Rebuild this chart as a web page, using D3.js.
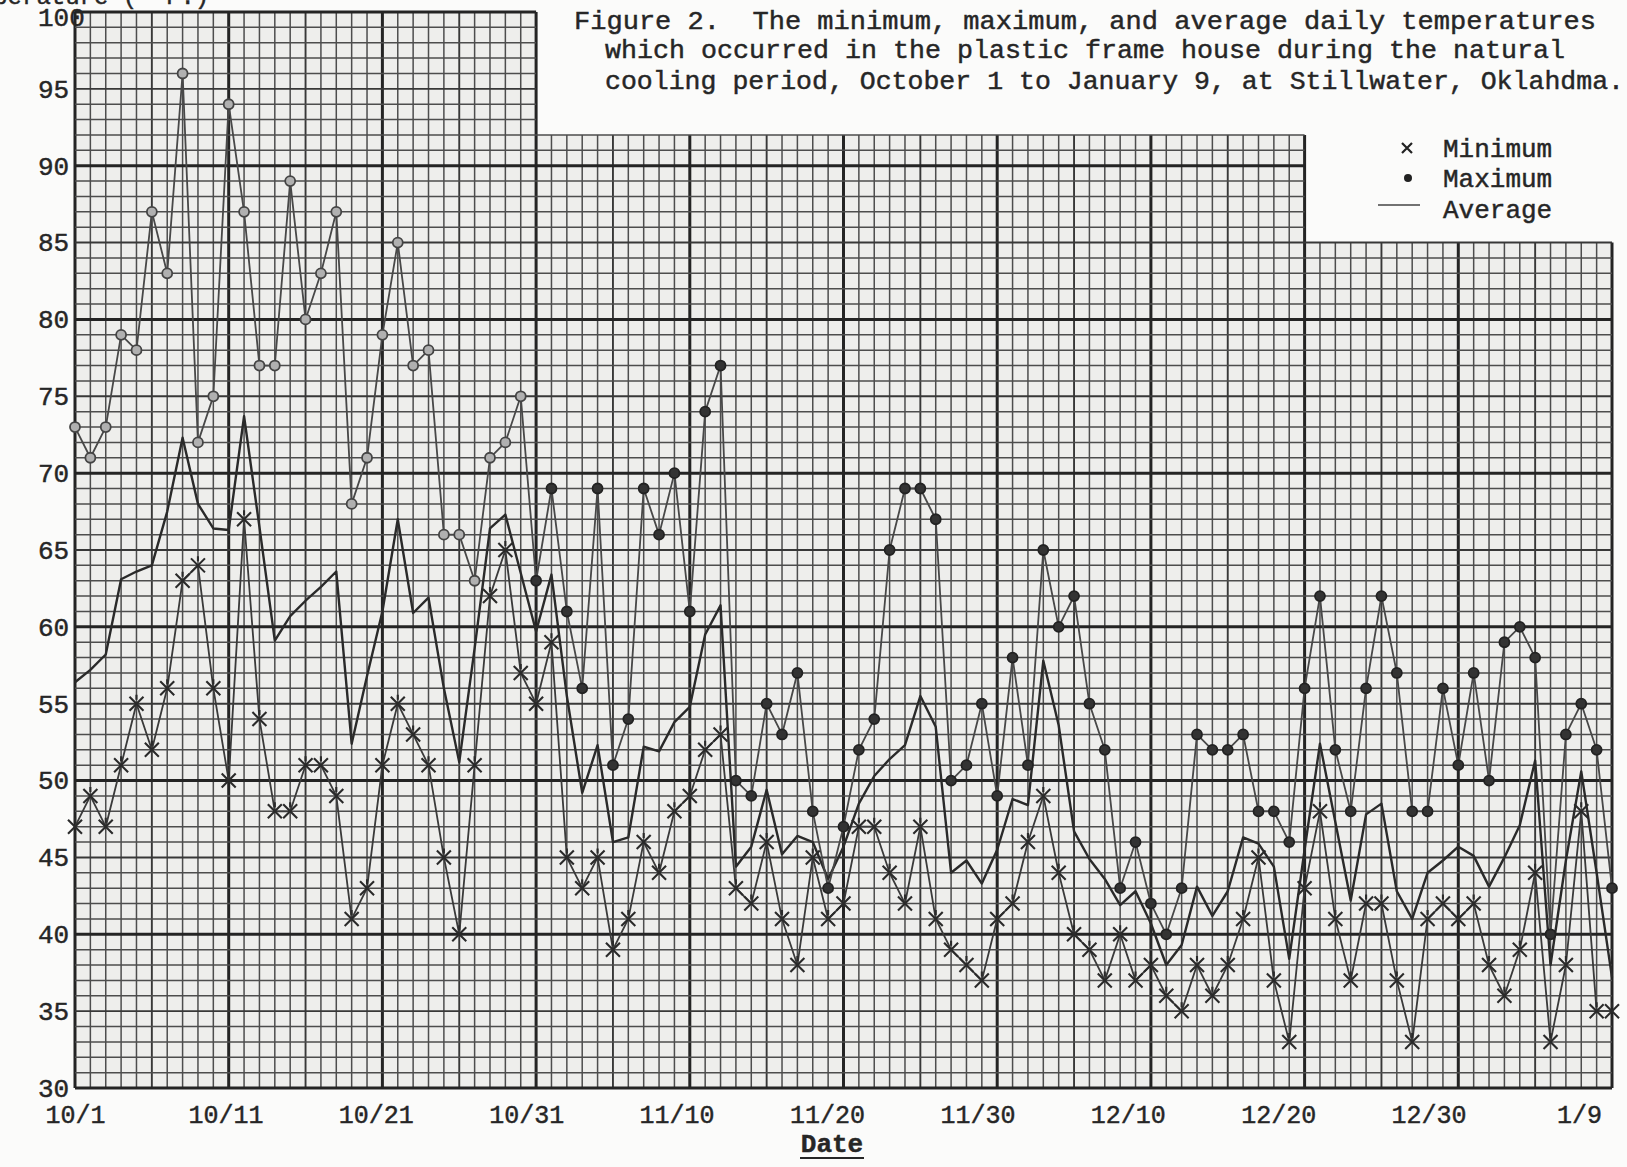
<!DOCTYPE html>
<html><head><meta charset="utf-8">
<script src="https://cdn.jsdelivr.net/npm/d3@7"></script>
<style>
html,body{margin:0;padding:0;background:#fbfbfa;}
svg{display:block;}
text{font-family:"Liberation Mono","DejaVu Sans Mono",monospace;fill:#262626;stroke:#262626;stroke-width:0.45px;}
</style></head><body>
<svg id="chart" width="1627" height="1167"></svg>
<script>
// ---- data (day index 0 = Oct 1, 100 = Jan 9) ----
const maxTemps = [73,71,73,79,78,87,83,96,72,75, 94,87,77,77,89,80,83,87,68,71,
  79,85,77,78,66,66,63,71,72,75, 63,69,61,56,69,51,54,69,66,70,
  61,74,77,50,49,55,53,57,48,43, 47,52,54,65,69,69,67,50,51,55,
  49,58,51,65,60,62,55,52,43,46, 42,40,43,53,52,52,53,48,48,46,
  56,62,52,48,56,62,57,48,48,56, 51,57,50,59,60,58,40,53,55,52, 43];
const minTemps = [47,49,47,51,55,52,56,63,64,56, 50,67,54,48,48,51,51,49,41,43,
  51,55,53,51,45,40,51,62,65,57, 55,59,45,43,45,39,41,46,44,48,
  49,52,53,43,42,46,41,38,45,41, 42,47,47,44,42,47,41,39,38,37,
  41,42,46,49,44,40,39,37,40,37, 38,36,35,38,36,38,41,45,37,33,
  43,48,41,37,42,42,37,33,41,42, 41,42,38,36,39,44,33,38,48,35, 35];
const avgTemps = [56.4,57.2,58.2,63.1,63.6,64.0,67.5,72.3,68.0,66.4,
  66.3,73.7,66.5,59.1,60.7,61.7,62.6,63.6,52.4,56.8,
  61.0,67.0,60.9,61.9,56.0,51.2,58.6,66.4,67.3,63.5,
  59.7,63.4,55.5,49.2,52.3,46.0,46.3,52.2,51.9,53.8,
  54.8,59.5,61.4,44.4,45.7,49.4,45.2,46.4,46.0,43.6,
  45.7,48.5,50.3,51.4,52.3,55.5,53.5,44.0,44.8,43.3,
  45.5,48.8,48.4,57.8,53.6,46.7,44.9,43.6,41.9,42.8,
  40.7,38.0,39.3,43.1,41.2,42.8,46.3,45.9,44.4,38.4,
  45.5,52.4,47.3,42.2,47.8,48.5,42.8,41.0,44.0,44.8,
  45.7,45.1,43.1,45.0,47.1,51.3,38.0,44.8,50.6,44.0, 37.2];
const xTickDays = [0,10,20,30,40,50,60,70,80,90,100];
const xTickLabels = ["10/1","10/11","10/21","10/31","11/10","11/20","11/30","12/10","12/20","12/30","1/9"];
const yTickValues = [30,35,40,45,50,55,60,65,70,75,80,85,90,95,100];
const titleLines = ["Figure 2.  The minimum, maximum, and average daily temperatures",
  "which occurred in the plastic frame house during the natural",
  "cooling period, October 1 to January 9, at Stillwater, Oklahdma."];
const legendLabels = ["Minimum","Maximum","Average"];
const yTitle = "Temperature (\u00B0 F.)";
const xTitle = "Date";

// ---- scales ----
const svg = d3.select("#chart");
const x = d3.scaleLinear().domain([0,100]).range([75,1612]);
const y = d3.scaleLinear().domain([30,100]).range([1088,12]);
const xLab = d3.scaleLinear().domain([0,100]).range([75,1579]);

// paper regions (the sheet is cut away under the title and legend)
function topOf(d){ return d<=30 ? 100 : (d<=80 ? 92 : 85); }
function rightOf(v){ return v<=85 ? 100 : (v<=92 ? 80 : 30); }

const paper = [[0,30],[0,100],[30,100],[30,92],[80,92],[80,85],[100,85],[100,30]];
svg.append("path")
  .attr("d", d3.line().x(p=>x(p[0])).y(p=>y(p[1]))(paper)+"Z")
  .attr("fill","#eeeeec");

const grid = svg.append("g");
function lw(k){ return k%10===0 ? 3 : (k%5===0 ? 1.9 : 1.5); }
function lc(k){ return k%10===0 ? "#242424" : (k%5===0 ? "#383838" : "#4d4d4d"); }
const dayLines = d3.range(0,101);
grid.selectAll("line.v").data(dayLines).join("line")
  .attr("x1",d=>x(d)).attr("x2",d=>x(d))
  .attr("y1",y(30)).attr("y2",d=>y(topOf(d)))
  .attr("stroke",d=>lc(d)).attr("stroke-width",d=>lw(d));
const degLines = d3.range(30,101);
grid.selectAll("line.h").data(degLines).join("line")
  .attr("y1",v=>y(v)).attr("y2",v=>y(v))
  .attr("x1",x(0)).attr("x2",v=>x(rightOf(v)))
  .attr("stroke",v=>lc(v)).attr("stroke-width",v=>lw(v));

// ---- series ----
const line = d3.line().x((v,i)=>x(i)).y(v=>y(v));
svg.append("path").attr("d",line(avgTemps)).attr("fill","none")
  .attr("stroke","#2a2a2a").attr("stroke-width",2.4).attr("stroke-linejoin","round");
svg.append("path").attr("d",line(minTemps)).attr("fill","none")
  .attr("stroke","#3a3a3a").attr("stroke-width",1.8).attr("stroke-linejoin","round");
svg.append("path").attr("d",line(maxTemps)).attr("fill","none")
  .attr("stroke","#484848").attr("stroke-width",1.8).attr("stroke-linejoin","round");

svg.append("g").selectAll("path").data(minTemps).join("path")
  .attr("transform",(v,i)=>`translate(${x(i)},${y(v)})`)
  .attr("d","M-7,-7L7,7M-7,7L7,-7M0,-9L0,-4")
  .attr("stroke","#2a2a2a").attr("stroke-width",2.1).attr("fill","none");

svg.append("g").selectAll("circle").data(maxTemps).join("circle")
  .attr("cx",(v,i)=>x(i)).attr("cy",v=>y(v)).attr("r",5)
  .attr("fill",(v,i)=> i<30 ? "#b0b0b0" : "#333")
  .attr("stroke",(v,i)=> i<30 ? "#444" : "#222").attr("stroke-width",1.8);

// ---- axes ----
const yAx = svg.append("g").attr("transform","translate(38,0)")
  .call(d3.axisLeft(y).tickValues(yTickValues).tickSize(0).tickPadding(0));
yAx.select(".domain").remove();
yAx.selectAll("text").attr("x",0).attr("text-anchor","start")
  .attr("dy",v=> v===100 ? "0.5em" : "0.32em")
  .style("font-family","'Liberation Mono',monospace").style("font-size","26px")
  .attr("fill","#262626").attr("stroke","#262626").attr("stroke-width",0.45);

const xAx = svg.append("g").attr("transform","translate(0,1114)")
  .call(d3.axisBottom(xLab).tickValues(xTickDays).tickFormat((d,i)=>xTickLabels[i]).tickSize(0).tickPadding(0));
xAx.select(".domain").remove();
xAx.selectAll("text").attr("y",0).attr("dy","0.35em")
  .style("font-family","'Liberation Mono',monospace").style("font-size","25px")
  .attr("fill","#262626").attr("stroke","#262626").attr("stroke-width",0.45);

svg.append("text").attr("x",832).attr("y",1143).attr("text-anchor","middle")
  .attr("dy","0.35em").style("font-size","26px").style("font-weight","bold").text(xTitle);
svg.append("line").attr("x1",800).attr("x2",864).attr("y1",1158).attr("y2",1158)
  .attr("stroke","#262626").attr("stroke-width",2);

svg.append("text").attr("x",-50).attr("y",4).style("font-size","24px").text(yTitle);

// ---- title ----
const tpos = [[574,29,1022],[605,58,960],[605,89,1019]];
svg.append("g").selectAll("text").data(titleLines).join("text")
  .attr("x",(t,i)=>tpos[i][0]).attr("y",(t,i)=>tpos[i][1])
  .attr("textLength",(t,i)=>tpos[i][2]).attr("lengthAdjust","spacingAndGlyphs")
  .style("font-size","26px").style("white-space","pre").text(t=>t);

// ---- legend ----
const lg = svg.append("g");
lg.append("path").attr("transform","translate(1407,148)").attr("d","M-5,-5L5,5M-5,5L5,-5")
  .attr("stroke","#222").attr("stroke-width",2.2);
lg.append("circle").attr("cx",1408).attr("cy",178).attr("r",4).attr("fill","#222");
lg.append("line").attr("x1",1378).attr("x2",1420).attr("y1",205).attr("y2",205)
  .attr("stroke","#444").attr("stroke-width",1.6);
lg.selectAll("text").data(legendLabels).join("text")
  .attr("x",1443).attr("y",(t,i)=>[148,178,209][i]).attr("dy","0.35em")
  .style("font-size","26px").text(t=>t);
</script>
</body></html>
